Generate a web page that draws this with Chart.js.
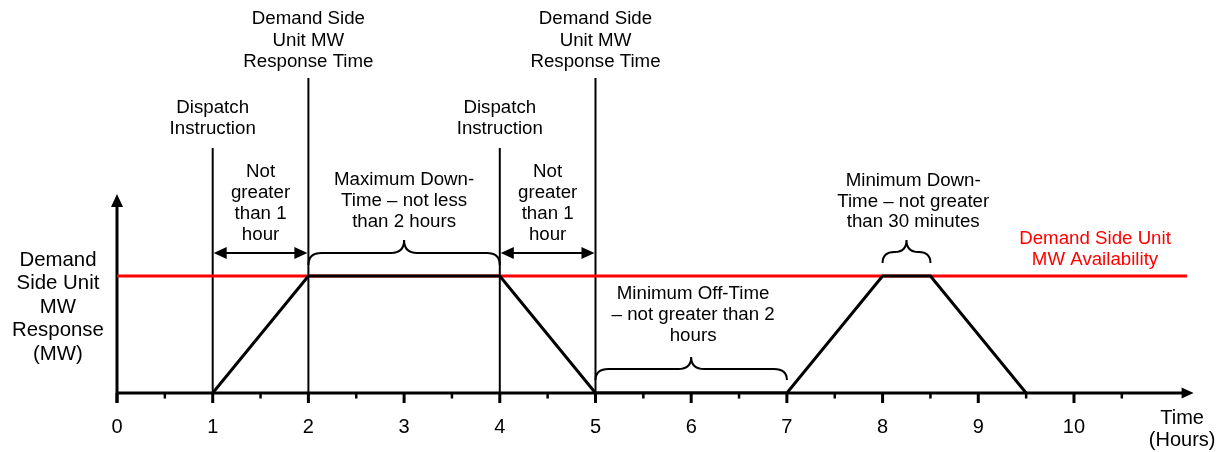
<!DOCTYPE html>
<html>
<head>
<meta charset="utf-8">
<script src="https://cdn.jsdelivr.net/npm/chart.js@4/dist/chart.umd.min.js"></script>
<style>
  html, body { margin: 0; padding: 0; background: #fff; }
</style>
</head>
<body>
<canvas id="dsu-chart" width="1220" height="452"></canvas>
<script>
'use strict';

// response profile of the demand side unit
const timeHours = [1, 2, 4, 5, 7, 8, 8.5, 9.5];
const responseMW = [0, 1, 1, 0, 0, 1, 1, 0];

// availability level
const availabilityHours = [0, 11.18];
const availabilityMW = [1, 1];

// x axis
const tickValues = [0, 1, 2, 3, 4, 5, 6, 7, 8, 9, 10];
const tickLabels = ['0', '1', '2', '3', '4', '5', '6', '7', '8', '9', '10'];
const minorTickValues = [0.5, 1.5, 2.5, 3.5, 4.5, 5.5, 6.5, 7.5, 8.5, 9.5, 10.5];

// event markers
const dispatchTimes = [1, 4];
const responseTimes = [2, 5];
const arrowSpans = [[1, 2], [4, 5]];
const braceSpans = [[2, 4], [5, 7], [8, 8.5]];

const FONT = '"Liberation Sans", Arial, sans-serif';
const X_MAX = 11.25;
const Y_MAX = 3.359;

// where the brace feet / bar / tip sit, in MW units
const braceLevels = [
  [1.094, 1.197, 1.308],
  [0.111, 0.205, 0.308],
  [1.111, 1.205, 1.308],
];

const textBlocks = [
  { x: 2, y: 3.197, lh: 21.5, lines: ['Demand Side', 'Unit MW', 'Response Time'] },
  { x: 5, y: 3.197, lh: 21.5, lines: ['Demand Side', 'Unit MW', 'Response Time'] },
  { x: 1, y: 2.436, lh: 20.5, lines: ['Dispatch', 'Instruction'] },
  { x: 4, y: 2.436, lh: 20.5, lines: ['Dispatch', 'Instruction'] },
  { x: 1.5, y: 1.889, lh: 21, lines: ['Not', 'greater', 'than 1', 'hour'] },
  { x: 4.5, y: 1.889, lh: 21, lines: ['Not', 'greater', 'than 1', 'hour'] },
  { x: 3, y: 1.821, lh: 21, lines: ['Maximum Down-', 'Time \u2013 not less', 'than 2 hours'] },
  { x: 6.02, y: 0.846, lh: 21, lines: ['Minimum Off-Time', '\u2013 not greater than 2', 'hours'] },
  { x: 8.32, y: 1.812, lh: 20.5, lines: ['Minimum Down-', 'Time \u2013 not greater', 'than 30 minutes'] },
  { x: 10.22, y: 1.316, lh: 21, lines: ['Demand Side Unit', 'MW Availability'], color: '#ff0000' },
  { x: -0.617, y: 1.137, lh: 23.5, size: 20.4, lines: ['Demand', 'Side Unit', 'MW', 'Response', '(MW)'] },
  { x: 11.13, y: -0.214, lh: 22, size: 20, lines: ['Time', '(Hours)'] },
];

function toPoints(xs, ys) {
  return xs.map((x, i) => ({ x: x, y: ys[i] }));
}

function line(ctx, x1, y1, x2, y2, width) {
  ctx.lineWidth = width;
  ctx.beginPath();
  ctx.moveTo(x1, y1);
  ctx.lineTo(x2, y2);
  ctx.stroke();
}

function arrowHead(ctx, tipX, tipY, dir, len, half) {
  // dir: 'up', 'left', 'right'
  ctx.beginPath();
  ctx.moveTo(tipX, tipY);
  if (dir === 'up') {
    ctx.lineTo(tipX - half, tipY + len);
    ctx.lineTo(tipX + half, tipY + len);
  } else if (dir === 'right') {
    ctx.lineTo(tipX - len, tipY - half);
    ctx.lineTo(tipX - len, tipY + half);
  } else {
    ctx.lineTo(tipX + len, tipY - half);
    ctx.lineTo(tipX + len, tipY + half);
  }
  ctx.closePath();
  ctx.fill();
}

function brace(ctx, x1, x2, yFoot, yBar, yTip) {
  const xm = (x1 + x2) / 2;
  const r = Math.min(13, (x2 - x1) / 4);
  ctx.lineWidth = 2;
  ctx.beginPath();
  ctx.moveTo(x1, yFoot);
  ctx.quadraticCurveTo(x1, yBar, x1 + r, yBar);
  ctx.lineTo(xm - r, yBar);
  ctx.quadraticCurveTo(xm, yBar, xm, yTip);
  ctx.moveTo(x2, yFoot);
  ctx.quadraticCurveTo(x2, yBar, x2 - r, yBar);
  ctx.lineTo(xm + r, yBar);
  ctx.quadraticCurveTo(xm, yBar, xm, yTip);
  ctx.stroke();
}

const axesPlugin = {
  id: 'diagramAxes',
  beforeDatasetsDraw(chart) {
    const ctx = chart.ctx;
    const xs = chart.scales.x;
    const ys = chart.scales.y;
    const y0 = ys.getPixelForValue(0);
    ctx.save();
    ctx.strokeStyle = '#000';
    ctx.fillStyle = '#000';

    // vertical event lines
    dispatchTimes.forEach((t) => {
      const px = xs.getPixelForValue(t);
      line(ctx, px, ys.getPixelForValue(2.094), px, y0, 2);
    });
    responseTimes.forEach((t) => {
      const px = xs.getPixelForValue(t);
      line(ctx, px, ys.getPixelForValue(2.692), px, y0, 2);
    });

    // x axis with arrow
    const xLeft = xs.getPixelForValue(0);
    const xTip = xs.getPixelForValue(X_MAX);
    line(ctx, xLeft, y0, xTip - 8, y0, 3);
    arrowHead(ctx, xTip, y0, 'right', 12, 5.5);

    // y axis with arrow
    const yTip = ys.getPixelForValue(1.70);
    line(ctx, xLeft, y0 + 10, xLeft, yTip + 8, 3);
    arrowHead(ctx, xLeft, yTip, 'up', 13, 6);

    // ticks
    tickValues.forEach((v) => {
      const px = xs.getPixelForValue(v);
      line(ctx, px, y0, px, y0 + 10, 3);
    });
    minorTickValues.forEach((v) => {
      const px = xs.getPixelForValue(v);
      line(ctx, px, y0, px, y0 + 5.5, 2.5);
    });

    // tick labels
    ctx.font = '20px ' + FONT;
    ctx.textAlign = 'center';
    ctx.textBaseline = 'middle';
    const labelY = ys.getPixelForValue(-0.299);
    tickValues.forEach((v, i) => {
      ctx.fillText(tickLabels[i], xs.getPixelForValue(v), labelY);
    });
    ctx.restore();
  },
  afterDatasetsDraw(chart) {
    const ctx = chart.ctx;
    const xs = chart.scales.x;
    const ys = chart.scales.y;
    ctx.save();
    ctx.strokeStyle = '#000';
    ctx.fillStyle = '#000';

    // double headed span arrows
    const arrowY = ys.getPixelForValue(1.197);
    arrowSpans.forEach(([a, b]) => {
      const pa = xs.getPixelForValue(a) + 1;
      const pb = xs.getPixelForValue(b) - 1;
      line(ctx, pa + 6, arrowY, pb - 6, arrowY, 2);
      arrowHead(ctx, pa, arrowY, 'left', 13, 6);
      arrowHead(ctx, pb, arrowY, 'right', 13, 6);
    });

    // braces
    braceSpans.forEach(([a, b], i) => {
      const lv = braceLevels[i];
      brace(ctx, xs.getPixelForValue(a), xs.getPixelForValue(b),
        ys.getPixelForValue(lv[0]), ys.getPixelForValue(lv[1]), ys.getPixelForValue(lv[2]));
    });

    // text
    ctx.textAlign = 'center';
    ctx.textBaseline = 'middle';
    textBlocks.forEach((blk) => {
      ctx.font = (blk.size || 18.7) + 'px ' + FONT;
      ctx.fillStyle = blk.color || '#000';
      const px = xs.getPixelForValue(blk.x);
      const py = ys.getPixelForValue(blk.y);
      blk.lines.forEach((txt, i) => {
        ctx.fillText(txt, px, py + i * blk.lh);
      });
    });
    ctx.restore();
  }
};

const chartContext = document.querySelector('#dsu-chart').getContext('2d');

const chartConfig = {
  type: 'line',
  data: {
    datasets: [
      {
        label: 'Demand Side Unit MW Response',
        data: toPoints(timeHours, responseMW),
        borderColor: '#000000',
        borderWidth: 3,
        pointRadius: 0,
        tension: 0,
        order: 1,
      },
      {
        label: 'Demand Side Unit MW Availability',
        data: toPoints(availabilityHours, availabilityMW),
        borderColor: '#ff0000',
        borderWidth: 3,
        pointRadius: 0,
        tension: 0,
        order: 2,
      }
    ]
  },
  options: {
    responsive: false,
    animation: false,
    layout: {
      padding: { left: 117, right: 26.4, top: 0, bottom: 59 }
    },
    scales: {
      x: { type: 'linear', min: 0, max: X_MAX, display: false },
      y: { type: 'linear', min: 0, max: Y_MAX, display: false }
    },
    plugins: {
      legend: { display: false },
      tooltip: { enabled: false }
    }
  },
  plugins: [axesPlugin],
};

const chart = new Chart(chartContext, chartConfig);
</script>
</body>
</html>
